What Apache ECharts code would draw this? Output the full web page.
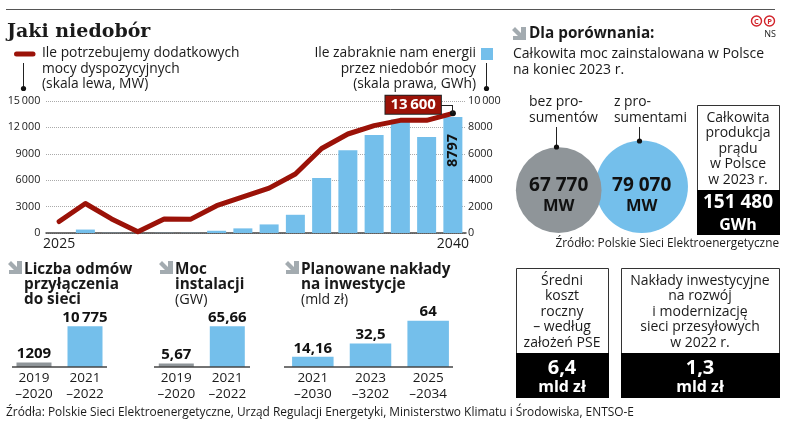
<!DOCTYPE html>
<html>
<head>
<meta charset="utf-8">
<style>
html, body { margin: 0; padding: 0; background: #fff; }
#chart { width: 788px; height: 437px; }
</style>
<script src="https://cdn.jsdelivr.net/npm/echarts@6/dist/echarts.min.js"></script>
</head>
<body>
<div id="chart"></div>
<script>
// wykres glowny
var years = ['2025', '2026', '2027', '2028', '2029', '2030', '2031', '2032', '2033', '2034', '2035', '2036', '2037', '2038', '2039', '2040'];
var powerMW = [1300, 3350, 1600, 150, 1600, 1550, 3100, 4100, 5100, 6700, 9600, 11250, 12200, 12800, 12800, 13600];
var energyGWh = [0, 260, 10, 0, 10, 10, 170, 350, 650, 1380, 4170, 6270, 7420, 8600, 7270, 8797];
var leftTicks = ['0', '3000', '6000', '9000', '12\u2009000', '15\u2009000'];
var rightTicks = ['0', '2000', '4000', '6000', '8000', '10\u2009000'];

// male wykresy
var refusalCats = ['2019\n–2020', '2021\n–2022'];
var refusalVals = [1209, 10775];
var refusalLabels = ['1209', '10\u2009775'];
var installCats = ['2019\n–2020', '2021\n–2022'];
var installVals = [5.67, 65.66];
var installLabels = ['5,67', '65,66'];
var investCats = ['2021\n–2030', '2023\n–3202', '2025\n–2034'];
var investVals = [14.16, 32.5, 64];
var investLabels = ['14,16', '32,5', '64'];

// kola
var circleCats = ['bez prosumentów', 'z prosumentami'];
var circleVals = [67770, 79070];
var circleLabels = ['67 770', '79 070'];

var FONT = '"Open Sans", sans-serif';
var RED = '#9b1208';
var BLUE = '#74bfeb';
var GREY = '#8f9599';
var ICON = '#a3abb0';
var INK = '#1a1a1a';

var shapes = [];

function text(x, y, str, size, opt) {
    opt = opt || {};
    shapes.push({
        type: 'text', x: x, y: y, z: 20,
        style: {
            text: str, fill: opt.fill || INK,
            font: (opt.weight || 'normal') + ' ' + size + 'px ' + (opt.family || FONT),
            align: opt.align || 'left', verticalAlign: 'middle',
            lineHeight: opt.lineHeight || size * 1.2
        }
    });
}
function rect(x, y, w, h, fill, stroke) {
    shapes.push({ type: 'rect', z: 10, shape: { x: x, y: y, width: w, height: h }, style: { fill: fill, stroke: stroke || null, lineWidth: 1 } });
}
function line(x1, y1, x2, y2, color, width) {
    shapes.push({ type: 'line', z: 15, shape: { x1: x1, y1: y1, x2: x2, y2: y2 }, style: { stroke: color, lineWidth: width || 1 } });
}
function pin(x, y1, y2) {
    line(x, y1, x, y2, '#222', 1);
    shapes.push({ type: 'circle', z: 15, shape: { cx: x, cy: y2, r: 2.6 }, style: { fill: '#111' } });
}
function arrow(x, y) {
    shapes.push({
        type: 'polygon', z: 15,
        shape: { points: [[x, y + 3], [x + 3, y], [x + 9, y + 6], [x + 9, y], [x + 14, y], [x + 14, y + 13], [x + 1, y + 13], [x + 1, y + 9], [x + 6, y + 9]] },
        style: { fill: ICON }
    });
}
function stamp(x, y, letter) {
    shapes.push({ type: 'circle', z: 15, shape: { cx: x, cy: y, r: 5 }, style: { fill: '#fff', stroke: '#d2232a', lineWidth: 1.4 } });
    text(x, y + 0.5, letter, 7.5, { weight: 'bold', fill: '#d2232a', align: 'center' });
}
function box(x, y, w, h, split, lines, big, unit, bigSize, bigY, unitY) {
    rect(x + 0.5, y + 0.5, w, h, '#fff', '#333');
    rect(x, split, w + 1, y + h - split + 1, '#000');
    text(x + w / 2, (y + split) / 2 + 1.5, lines, 14, { align: 'center', lineHeight: 15.5 });
    text(x + w / 2, split + bigY, big, bigSize, { align: 'center', weight: 'bold', fill: '#fff' });
    text(x + w / 2, split + unitY, unit, 16, { align: 'center', weight: 'bold', fill: '#fff' });
}

// gora
line(6, 9.5, 775, 9.5, '#555', 1);
text(7, 32, 'Jaki niedobór', 19, { weight: 'bold', family: '"DejaVu Serif", serif' });

// legenda wykresu glownego
shapes.push({ type: 'line', z: 15, shape: { x1: 16.5, y1: 54, x2: 33, y2: 54 }, style: { stroke: RED, lineWidth: 5, lineCap: 'round' } });
pin(23.5, 63, 88.5);
text(42, 69, 'Ile potrzebujemy dodatkowych\nmocy dyspozycyjnych\n(skala lewa, MW)', 13.8, { lineHeight: 15.5 });
rect(481, 48, 12, 12, BLUE);
pin(486.5, 63, 88.5);
text(476, 69, 'Ile zabraknie nam energii\nprzez niedobór mocy\n(skala prawa, GWh)', 13.8, { align: 'right', lineHeight: 15.5 });

// odnosnik 13 600
line(441, 105.5, 452.5, 105.5, '#222', 1);
line(452.5, 105, 452.5, 113, '#222', 1);

// prawa strona
arrow(512, 27);
text(529, 34, 'Dla porównania:', 15.3, { weight: 'bold' });
text(513, 62, 'Całkowita moc zainstalowana w Polsce\nna koniec 2023 r.', 14, { lineHeight: 16 });
text(529, 110, 'bez pro-\nsumentów', 14, { lineHeight: 16 });
text(614, 110, 'z pro-\nsumentami', 13.8, { lineHeight: 16 });
pin(556.5, 127, 147);
pin(639.5, 127, 141);
stamp(756.5, 21, 'C');
stamp(769.5, 21, 'P');
text(776, 34, 'NS', 9, { align: 'right' });
box(697, 105, 82, 129, 190, 'Całkowita\nprodukcja\nprądu\nw Polsce\nw 2023 r.', '151 480', 'GWh', 19, 13, 35);
text(779, 244, 'Źródło: Polskie Sieci Elektroenergetyczne', 11.8, { align: 'right' });

// naglowki malych wykresow
arrow(8, 261);
text(24, 285, 'Liczba odmów\nprzyłączenia\ndo sieci', 15.3, { weight: 'bold', lineHeight: 15 });
arrow(159, 261);
text(175, 277, 'Moc\ninstalacji', 15.3, { weight: 'bold', lineHeight: 15 });
text(175, 300, '(GW)', 14.5);
arrow(285, 261);
text(301, 277, 'Planowane nakłady\nna inwestycje', 15.3, { weight: 'bold', lineHeight: 15 });
text(301, 300, '(mld zł)', 14);
line(12, 367, 107, 367, '#444', 1.5);
line(154, 367, 250, 367, '#444', 1.5);
line(284, 367, 453, 367, '#444', 1.5);

// ramki
box(516, 268, 92, 129, 353, 'Średni\nkoszt\nroczny\n– według\nzałożeń PSE', '6,4', 'mld zł', 20, 15, 34);
box(621, 268, 158, 129, 353, 'Nakłady inwestycyjne\nna rozwój\ni modernizację\nsieci przesyłowych\nw 2022 r.', '1,3', 'mld zł', 20, 15, 34);

text(6, 412.5, 'Źródła: Polskie Sieci Elektroenergetyczne, Urząd Regulacji Energetyki, Ministerstwo Klimatu i Środowiska, ENTSO-E', 11.9);

function smallGrid(left, right) {
    return { left: left, width: right - left, top: 300, height: 67 };
}
function smallX(idx, cats) {
    return {
        type: 'category', gridIndex: idx, data: cats,
        axisLine: { show: false }, axisTick: { show: false },
        axisLabel: { color: INK, fontFamily: FONT, fontSize: 13.5, lineHeight: 16, margin: 3, interval: 0 }
    };
}
function smallY(idx, max) {
    return { type: 'value', gridIndex: idx, min: 0, max: max, show: false };
}
function smallSeries(idx, vals, labels, width, colors) {
    return {
        type: 'bar', xAxisIndex: idx, yAxisIndex: idx, barWidth: width,
        data: vals.map(function (v, i) {
            return { value: v, itemStyle: { color: colors[i] } };
        }),
        label: {
            show: true, position: 'top', distance: 1,
            fontFamily: FONT, fontWeight: 'bold', fontSize: 15, color: '#111',
            formatter: function (p) { return labels[p.dataIndex]; }
        }
    };
}

var option = {
    animation: false,
    backgroundColor: '#fff',
    grid: [
        { left: 46, width: 420, top: 101, height: 132 },
        smallGrid(8.5, 110.5),
        smallGrid(150.8, 252.8),
        smallGrid(284, 457),
        { left: 517.2, width: 166, top: 130, height: 103 }
    ],
    xAxis: [
        {
            type: 'category', gridIndex: 0, data: years,
            axisLine: { lineStyle: { color: '#444', width: 1.5 } },
            axisTick: { show: false },
            axisLabel: {
                interval: 0, color: INK, fontFamily: FONT, fontSize: 14, margin: 4,
                formatter: function (v, i) { return (i === 0 || i === years.length - 1) ? v : ''; }
            }
        },
        smallX(1, refusalCats),
        smallX(2, installCats),
        smallX(3, investCats),
        { type: 'category', gridIndex: 4, data: circleCats, show: false }
    ],
    yAxis: [
        {
            type: 'value', gridIndex: 0, min: 0, max: 15000, interval: 3000,
            axisLine: { show: false }, axisTick: { show: false },
            splitLine: { lineStyle: { color: '#aaa', type: 'dotted', width: 1 } },
            axisLabel: {
                color: INK, fontFamily: FONT, fontSize: 10.8, margin: 5.7,
                formatter: function (v) { return leftTicks[v / 3000]; }
            }
        },
        smallY(1, 17700),
        smallY(2, 108),
        smallY(3, 92.5),
        { type: 'value', gridIndex: 4, min: 0, max: 100000, show: false },
        {
            type: 'value', gridIndex: 0, position: 'right', min: 0, max: 10000, interval: 2000,
            axisLine: { show: false }, axisTick: { show: false }, splitLine: { show: false },
            axisLabel: {
                color: INK, fontFamily: FONT, fontSize: 10.8, margin: 2,
                formatter: function (v) { return rightTicks[v / 2000]; }
            }
        }
    ],
    series: [
        {
            type: 'bar', xAxisIndex: 0, yAxisIndex: 5, barWidth: 19, z: 2,
            itemStyle: { color: BLUE },
            data: energyGWh.map(function (v, i) {
                if (i !== energyGWh.length - 1) return v;
                return {
                    value: v,
                    label: {
                        show: true, position: 'insideTop', rotate: 90, align: 'right', verticalAlign: 'middle',
                        distance: 17, fontFamily: FONT, fontWeight: 'bold', fontSize: 14.5, color: '#111',
                        formatter: '8797'
                    }
                };
            })
        },
        {
            type: 'line', xAxisIndex: 0, yAxisIndex: 0, z: 5,
            symbol: 'none',
            lineStyle: { color: RED, width: 5, cap: 'round', join: 'round' },
            data: powerMW.map(function (v, i) {
                if (i !== powerMW.length - 1) return v;
                return {
                    value: v, symbol: 'circle', symbolSize: 6, itemStyle: { color: '#111' },
                    label: {
                        show: true, position: 'left', distance: 0, offset: [-9, -8.5],
                        backgroundColor: RED, borderColor: '#222', borderWidth: 1, padding: [2, 5, 1, 5],
                        fontFamily: FONT, fontWeight: 'bold', fontSize: 15, color: '#fff',
                        formatter: '13\u2009600'
                    }
                };
            })
        },
        smallSeries(1, refusalVals, refusalLabels, 35, [GREY, BLUE]),
        smallSeries(2, installVals, installLabels, 35, [GREY, BLUE]),
        smallSeries(3, investVals, investLabels, 41.5, [BLUE, BLUE, BLUE]),
        {
            type: 'custom', xAxisIndex: 4, yAxisIndex: 4,
            data: circleVals.map(function (v, i) { return [i, v]; }),
            encode: { x: 0, y: 1 },
            renderItem: function (params, api) {
                var i = api.value(0);
                var base = api.coord([i, 0]);
                var r = Math.sqrt(api.value(1)) * 0.1645;
                var cy = base[1] - r;
                return {
                    type: 'group',
                    children: [
                        { type: 'circle', shape: { cx: base[0], cy: cy, r: r }, z2: i === 0 ? 4 : 1, style: { fill: i === 0 ? GREY : BLUE } },
                        { type: 'text', z2: 6, style: { x: base[0], y: 186, text: circleLabels[i], align: 'center', verticalAlign: 'middle', fill: '#111', font: 'bold 19px ' + FONT } },
                        { type: 'text', z2: 6, style: { x: base[0], y: 206, text: 'MW', align: 'center', verticalAlign: 'middle', fill: '#111', font: 'bold 16.5px ' + FONT } }
                    ]
                };
            }
        }
    ],
    graphic: { elements: shapes }
};

var chart = echarts.init(document.getElementById('chart'), null, { renderer: 'canvas' });
chart.setOption(option);
</script>
</body>
</html>
